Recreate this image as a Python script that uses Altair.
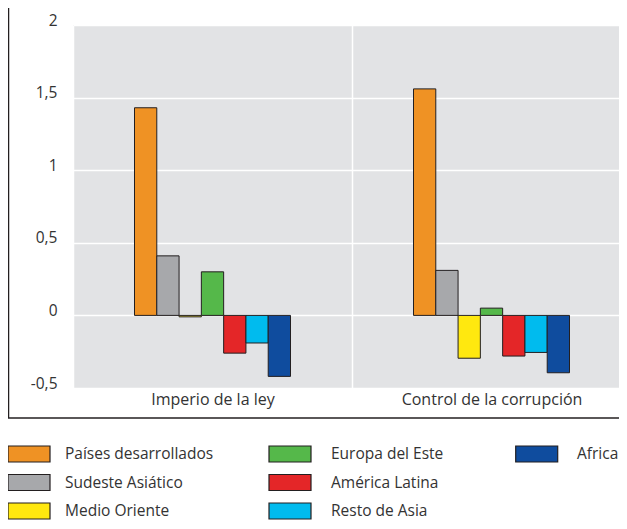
import altair as alt
import pandas as pd

indicators = ["Imperio de la ley", "Control de la corrupción"]
regions = ["Países desarrollados", "Sudeste Asiático", "Medio Oriente",
           "Europa del Este", "América Latina", "Resto de Asia", "Africa"]
colors = ["#EF9224", "#A7A8AB", "#FFE80F", "#55B84A", "#E42628", "#00BBEE", "#0F4C9E"]
imperio = [1.43, 0.41, -0.01, 0.30, -0.26, -0.19, -0.42]
control = [1.56, 0.31, -0.295, 0.05, -0.28, -0.255, -0.395]
y_ticks = [-0.5, 0, 0.5, 1, 1.5, 2]

rows = []
for ind, vals in zip(indicators, [imperio, control]):
    for r, v in zip(regions, vals):
        rows.append({"indicador": ind, "region": r, "valor": v})
df = pd.DataFrame(rows)

legend_df = pd.DataFrame({
    "region": regions,
    "col": [i // 3 for i in range(len(regions))],
    "row": [i % 3 for i in range(len(regions))],
})

FONT = "Open Sans"
TXT = "#333333"
DARK = "#231F20"

color_enc = alt.Color("region:N", sort=regions,
                      scale=alt.Scale(domain=regions, range=colors), legend=None)

bars = alt.Chart(df).mark_bar(stroke=DARK, strokeWidth=1).encode(
    x=alt.X("indicador:N", sort=indicators,
            scale=alt.Scale(range=[0, 558], paddingInner=0, paddingOuter=0),
            axis=alt.Axis(title=None, labelAngle=0, ticks=False, tickSize=0, domain=False,
                          grid=True, tickBand="extent", gridColor="white", gridWidth=1.5,
                          labelFontSize=16, labelPadding=16, labelBaseline="alphabetic",
                          labelLimit=400, labelColor=TXT, labelFont=FONT)),
    xOffset=alt.XOffset("region:N", sort=regions,
                        scale=alt.Scale(range=[61.5, 217.5], paddingInner=0, paddingOuter=0)),
    y=alt.Y("valor:Q", scale=alt.Scale(domain=[-0.5, 2], nice=False, zero=False),
            axis=alt.Axis(title=None, values=y_ticks, ticks=False, tickSize=0, domain=False,
                          grid=True, gridColor="white", gridWidth=1.5,
                          labelExpr="replace('' + datum.value, '.', ',')",
                          labelFontSize=15.5, labelPadding=16, labelBaseline="alphabetic",
                          labelColor=TXT, labelFont=FONT)),
    color=color_enc,
)

leg_swatch = alt.Chart(legend_df).mark_rect(width=42, height=16, stroke=DARK, strokeWidth=1.2).encode(
    x=alt.X("col:Q", scale=alt.Scale(domain=[0, 1, 2], range=[-44, 217, 463.7]), axis=None),
    y=alt.Y("row:Q", scale=alt.Scale(domain=[0, 2], range=[429, 486]), axis=None),
    color=color_enc,
)

leg_text = alt.Chart(legend_df).mark_text(align="left", baseline="middle", fontSize=15.5,
                                           color=TXT, font=FONT).encode(
    x=alt.X("col:Q", scale=alt.Scale(domain=[0, 1, 2], range=[-8, 258, 504]), axis=None),
    y=alt.Y("row:Q", scale=alt.Scale(domain=[0, 2], range=[429, 486]), axis=None),
    text="region:N",
)

one = pd.DataFrame({"a": [0]})
frame_left = alt.Chart(one).mark_rule(color=DARK, strokeWidth=1.5).encode(
    x=alt.value(-64.5), y=alt.value(-17), y2=alt.value(393))
frame_bottom = alt.Chart(one).mark_rule(color=DARK, strokeWidth=1.5).encode(
    x=alt.value(-65), x2=alt.value(546), y=alt.value(393))

chart = alt.layer(bars, leg_swatch, leg_text, frame_left, frame_bottom).resolve_scale(
    x="independent", y="independent"
).properties(
    width=546, height=363,
    autosize=alt.AutoSizeParams(type="none"),
    padding={"left": 65, "top": 17, "right": 0, "bottom": 133},
).configure(
    font=FONT
).configure_view(
    fill="#E2E3E5", strokeWidth=0
)

chart.save("out.html", embed_options={"renderer": "svg", "actions": False})
